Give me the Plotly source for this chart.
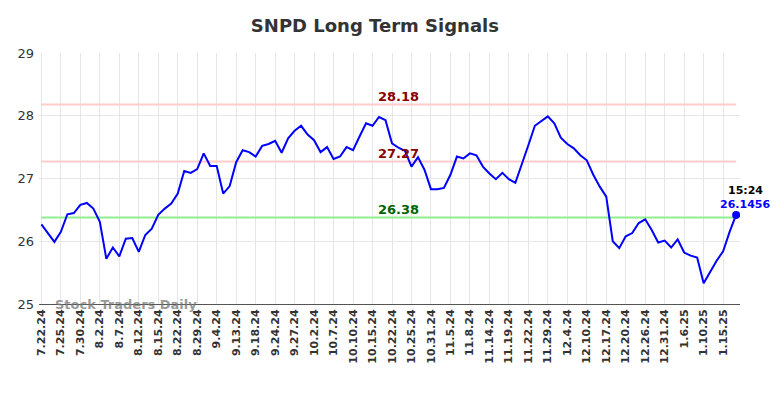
import plotly.graph_objects as go

dates = [
    "7.22.24", "7.23.24", "7.24.24", "7.25.24", "7.26.24", "7.29.24", "7.30.24", "7.31.24", "8.1.24",
    "8.2.24", "8.5.24", "8.6.24", "8.7.24", "8.8.24", "8.9.24", "8.12.24", "8.13.24", "8.14.24",
    "8.15.24", "8.16.24", "8.20.24", "8.22.24", "8.23.24", "8.27.24", "8.29.24", "8.30.24", "9.3.24",
    "9.4.24", "9.6.24", "9.10.24", "9.13.24", "9.16.24", "9.17.24", "9.18.24", "9.19.24", "9.23.24",
    "9.24.24", "9.25.24", "9.26.24", "9.27.24", "9.30.24", "10.1.24", "10.2.24", "10.3.24", "10.4.24",
    "10.7.24", "10.8.24", "10.9.24", "10.10.24", "10.11.24", "10.14.24", "10.15.24", "10.17.24", "10.21.24",
    "10.22.24", "10.23.24", "10.24.24", "10.25.24", "10.28.24", "10.30.24", "10.31.24", "11.1.24", "11.4.24",
    "11.5.24", "11.6.24", "11.7.24", "11.8.24", "11.12.24", "11.13.24", "11.14.24", "11.15.24", "11.18.24",
    "11.19.24", "11.20.24", "11.21.24", "11.22.24", "11.25.24", "11.27.24", "11.29.24", "12.2.24", "12.3.24",
    "12.4.24", "12.5.24", "12.9.24", "12.10.24", "12.12.24", "12.16.24", "12.17.24", "12.18.24", "12.19.24",
    "12.20.24", "12.23.24", "12.24.24", "12.26.24", "12.27.24", "12.30.24", "12.31.24", "1.2.25", "1.3.25",
    "1.6.25", "1.7.25", "1.8.25", "1.10.25", "1.13.25", "1.14.25", "1.15.25", "1.16.25", "1.17.25",
]

prices = [
    26.27, 26.13, 25.99, 26.15, 26.43, 26.45, 26.58, 26.61, 26.52, 26.31,
    25.72, 25.90, 25.76, 26.04, 26.05, 25.83, 26.10, 26.20, 26.42, 26.52,
    26.60, 26.76, 27.12, 27.09, 27.15, 27.40, 27.20, 27.20, 26.76, 26.88,
    27.26, 27.45, 27.42, 27.35, 27.52, 27.55, 27.60, 27.41, 27.64, 27.76,
    27.84, 27.70, 27.61, 27.42, 27.50, 27.31, 27.35, 27.50, 27.45, 27.67,
    27.88, 27.84, 27.98, 27.93, 27.56, 27.49, 27.44, 27.19, 27.34, 27.14,
    26.83, 26.83, 26.85, 27.06, 27.35, 27.32, 27.40, 27.37, 27.19, 27.08,
    26.99, 27.09, 26.99, 26.93, 27.22, 27.53, 27.84, 27.91, 27.99, 27.88,
    27.65, 27.55, 27.48, 27.37, 27.29, 27.06, 26.87, 26.71, 26.00, 25.89,
    26.08, 26.13, 26.29, 26.35, 26.18, 25.98, 26.01, 25.90, 26.03, 25.82,
    25.77, 25.74, 25.33, 25.51, 25.69, 25.84, 26.15, 26.42,
]

tick_labels = dates[::3]

signal_levels = [28.18, 27.27, 26.38]
signal_labels = ["28.18", "27.27", "26.38"]
signal_line_colors = ["#ffcccc", "#ffcccc", "#90ee90"]
signal_text_colors = ["#8b0000", "#8b0000", "#006400"]

last_time = "15:24"
last_value_text = "26.1456"

title = "SNPD Long Term Signals"
watermark = "Stock Traders Daily"

FONT = "DejaVu Sans"

fig = go.Figure()

for lvl, col in zip(signal_levels, signal_line_colors):
    fig.add_trace(go.Scatter(
        x=[dates[0], dates[-1]], y=[lvl, lvl], mode="lines",
        line=dict(color=col, width=2), hoverinfo="skip", showlegend=False,
    ))

fig.add_trace(go.Scatter(
    x=dates, y=prices, mode="lines",
    line=dict(color="#0000ff", width=2), showlegend=False,
))

fig.add_trace(go.Scatter(
    x=[dates[-1]], y=[prices[-1]], mode="markers",
    marker=dict(color="#0000ff", size=8), showlegend=False,
))

mid_cat = dates[55]
for lvl, txt, col in zip(signal_levels, signal_labels, signal_text_colors):
    fig.add_annotation(
        x=mid_cat, y=lvl, text=txt, showarrow=False, yshift=8, xshift=0,
        font=dict(family=FONT, size=13, color=col, weight="bold"),
    )

fig.add_annotation(
    x=dates[-1], y=prices[-1], text=last_time, showarrow=False,
    yshift=24, xshift=9,
    font=dict(family=FONT, size=11, color="#000000", weight="bold"),
)
fig.add_annotation(
    x=dates[-1], y=prices[-1], text=last_value_text, showarrow=False,
    yshift=10, xshift=9,
    font=dict(family=FONT, size=11, color="#0000ff", weight="bold"),
)

fig.add_annotation(
    xref="paper", yref="paper", x=0.02, y=0.0, xanchor="left", yanchor="middle",
    text=watermark, showarrow=False,
    font=dict(family=FONT, size=13, color="rgba(120,120,120,0.75)", weight="bold"),
)

fig.update_layout(
    width=784, height=398,
    margin=dict(l=31, r=52, t=45, b=102),
    paper_bgcolor="white", plot_bgcolor="white",
    title=dict(text=title, x=0.468, y=0.955, xanchor="center", yanchor="middle",
               font=dict(family=FONT, size=18, color="#333333", weight="bold")),
    font=dict(family=FONT, color="#333333"),
)

fig.update_xaxes(
    type="category", categoryorder="array", categoryarray=dates,
    range=[-0.37, 107.6],
    tickmode="array", tickvals=tick_labels, ticktext=tick_labels,
    tickangle=-90, tickfont=dict(family=FONT, size=11, color="#333333", weight="bold"),
    showgrid=True, gridcolor="#e6e6e6", gridwidth=1,
    showline=True, linecolor="#555555", linewidth=1,
    ticks="", zeroline=False, automargin=False,
)
fig.update_yaxes(
    range=[25, 29], tickvals=[25, 26, 27, 28, 29],
    tickfont=dict(family=FONT, size=13, color="#333333"),
    ticklabelstandoff=4, automargin=False,
    showgrid=True, gridcolor="#e6e6e6", gridwidth=1,
    zeroline=False, ticks="", showline=False,
)

fig.write_html("out.html")
